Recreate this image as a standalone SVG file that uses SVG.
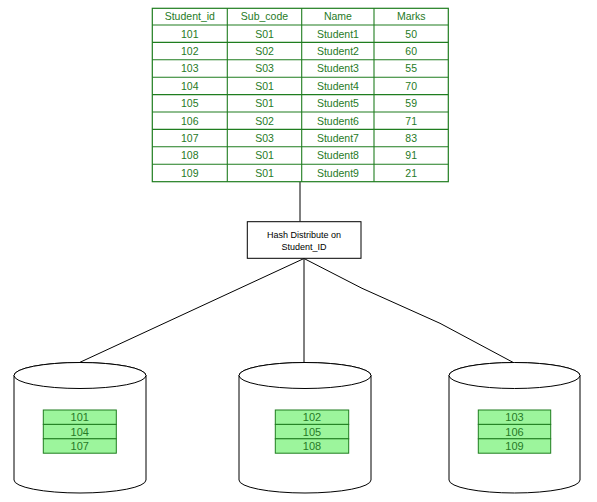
<svg xmlns="http://www.w3.org/2000/svg" width="597" height="502" viewBox="0 0 597 502">
<style>
.bg{fill:#ffffff}
.tb{fill:#ffffff;stroke:#1f7d1f;stroke-width:1.2}
.tl{stroke:#1f7d1f;stroke-width:1.1;fill:none}
.tt{font-family:"Liberation Sans",Arial,sans-serif;font-size:10.5px;fill:#267a26;text-anchor:middle}
.box{fill:#ffffff;stroke:#000000;stroke-width:1}
.ht{font-family:"Liberation Sans",Arial,sans-serif;font-size:9px;fill:#000000;text-anchor:middle}
.cyl{fill:#ffffff;stroke:#000000;stroke-width:1}
.in{fill:#9cf59c;stroke:#1f7d1f;stroke-width:1}
.it{font-family:"Liberation Sans",Arial,sans-serif;font-size:11px;fill:#267a26;text-anchor:middle}
.con{stroke:#000000;stroke-width:1;fill:none}
</style>
<rect class="bg" x="0" y="0" width="597" height="502"/>
<g id="connectors">
<line class="con" x1="300" y1="182" x2="300" y2="221.5"/>
<line class="con" x1="304" y1="258.5" x2="79.5" y2="362.5"/>
<line class="con" x1="304" y1="258.5" x2="304" y2="362.5"/>
<polyline class="con" points="304,258.5 362,288.3 440,323.3 513.3,362.5"/>
</g>
<g id="student-table">
<rect class="tb" x="152.3" y="8.3" width="296" height="173.4"/>
<line class="tl" x1="227.3" y1="8.3" x2="227.3" y2="181.7"/>
<line class="tl" x1="301.7" y1="8.3" x2="301.7" y2="181.7"/>
<line class="tl" x1="374" y1="8.3" x2="374" y2="181.7"/>
<line class="tl" x1="152.3" y1="25" x2="448.3" y2="25"/>
<line class="tl" x1="152.3" y1="42.4" x2="448.3" y2="42.4"/>
<line class="tl" x1="152.3" y1="59.8" x2="448.3" y2="59.8"/>
<line class="tl" x1="152.3" y1="77.2" x2="448.3" y2="77.2"/>
<line class="tl" x1="152.3" y1="94.6" x2="448.3" y2="94.6"/>
<line class="tl" x1="152.3" y1="112" x2="448.3" y2="112"/>
<line class="tl" x1="152.3" y1="129.4" x2="448.3" y2="129.4"/>
<line class="tl" x1="152.3" y1="146.8" x2="448.3" y2="146.8"/>
<line class="tl" x1="152.3" y1="164.2" x2="448.3" y2="164.2"/>
<text class="tt" x="189.8" y="20.4">Student_id</text>
<text class="tt" x="264.5" y="20.4">Sub_code</text>
<text class="tt" x="337.9" y="20.4">Name</text>
<text class="tt" x="411.2" y="20.4">Marks</text>
<text class="tt" x="189.8" y="37.5">101</text><text class="tt" x="264.5" y="37.5">S01</text><text class="tt" x="337.9" y="37.5">Student1</text><text class="tt" x="411.2" y="37.5">50</text>
<text class="tt" x="189.8" y="54.9">102</text><text class="tt" x="264.5" y="54.9">S02</text><text class="tt" x="337.9" y="54.9">Student2</text><text class="tt" x="411.2" y="54.9">60</text>
<text class="tt" x="189.8" y="72.3">103</text><text class="tt" x="264.5" y="72.3">S03</text><text class="tt" x="337.9" y="72.3">Student3</text><text class="tt" x="411.2" y="72.3">55</text>
<text class="tt" x="189.8" y="89.7">104</text><text class="tt" x="264.5" y="89.7">S01</text><text class="tt" x="337.9" y="89.7">Student4</text><text class="tt" x="411.2" y="89.7">70</text>
<text class="tt" x="189.8" y="107.1">105</text><text class="tt" x="264.5" y="107.1">S01</text><text class="tt" x="337.9" y="107.1">Student5</text><text class="tt" x="411.2" y="107.1">59</text>
<text class="tt" x="189.8" y="124.5">106</text><text class="tt" x="264.5" y="124.5">S02</text><text class="tt" x="337.9" y="124.5">Student6</text><text class="tt" x="411.2" y="124.5">71</text>
<text class="tt" x="189.8" y="141.9">107</text><text class="tt" x="264.5" y="141.9">S03</text><text class="tt" x="337.9" y="141.9">Student7</text><text class="tt" x="411.2" y="141.9">83</text>
<text class="tt" x="189.8" y="159.3">108</text><text class="tt" x="264.5" y="159.3">S01</text><text class="tt" x="337.9" y="159.3">Student8</text><text class="tt" x="411.2" y="159.3">91</text>
<text class="tt" x="189.8" y="176.7">109</text><text class="tt" x="264.5" y="176.7">S01</text><text class="tt" x="337.9" y="176.7">Student9</text><text class="tt" x="411.2" y="176.7">21</text>
</g>
<g id="hash-node">
<rect class="box" x="247.3" y="221.7" width="113.7" height="36.6"/>
<text class="ht" x="304" y="238">Hash Distribute on</text>
<text class="ht" x="304" y="249.5">Student_ID</text>
</g>
<g id="db1">
<path class="cyl" d="M14,375.5 L14,480 A66,13 0 0 0 146,480 L146,375.5 A66,13 0 0 0 14,375.5 Z"/>
<ellipse class="cyl" cx="80" cy="375.5" rx="66" ry="13"/>
<rect class="in" x="43.3" y="410" width="73" height="14.4"/>
<rect class="in" x="43.3" y="424.4" width="73" height="14.4"/>
<rect class="in" x="43.3" y="438.8" width="73" height="14.4"/>
<text class="it" x="79.8" y="421.2">101</text>
<text class="it" x="79.8" y="435.6">104</text>
<text class="it" x="79.8" y="450">107</text>
</g>
<g id="db2">
<path class="cyl" d="M239,375.5 L239,480 A66,13 0 0 0 371,480 L371,375.5 A66,13 0 0 0 239,375.5 Z"/>
<ellipse class="cyl" cx="305" cy="375.5" rx="66" ry="13"/>
<rect class="in" x="275.3" y="410" width="73.4" height="14.4"/>
<rect class="in" x="275.3" y="424.4" width="73.4" height="14.4"/>
<rect class="in" x="275.3" y="438.8" width="73.4" height="14.4"/>
<text class="it" x="312" y="421.2">102</text>
<text class="it" x="312" y="435.6">105</text>
<text class="it" x="312" y="450">108</text>
</g>
<g id="db3">
<path class="cyl" d="M449,375.5 L449,480 A65.5,13 0 0 0 580,480 L580,375.5 A65.5,13 0 0 0 449,375.5 Z"/>
<ellipse class="cyl" cx="514.5" cy="375.5" rx="65.5" ry="13"/>
<rect class="in" x="478.3" y="410" width="72.4" height="14.4"/>
<rect class="in" x="478.3" y="424.4" width="72.4" height="14.4"/>
<rect class="in" x="478.3" y="438.8" width="72.4" height="14.4"/>
<text class="it" x="514.5" y="421.2">103</text>
<text class="it" x="514.5" y="435.6">106</text>
<text class="it" x="514.5" y="450">109</text>
</g>
</svg>
